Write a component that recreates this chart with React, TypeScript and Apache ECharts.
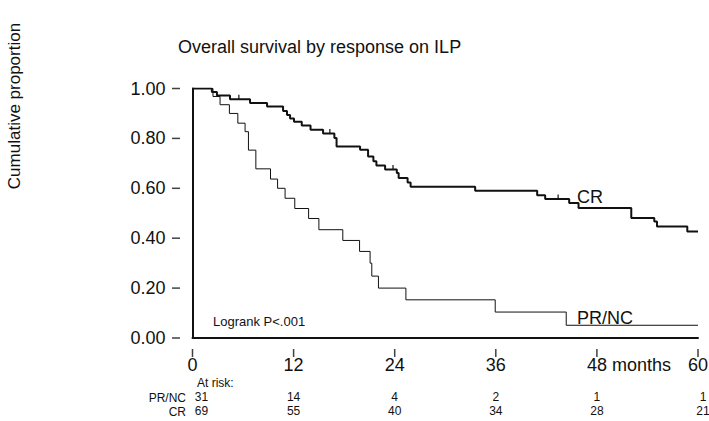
import React, { useEffect, useRef } from "react";
import * as echarts from "echarts";

const FONT = "'Liberation Sans', Arial, Helvetica, sans-serif";
const INK = "#111111";

const monthTicks = [0, 12, 24, 36, 48, 60];
const propTicks = [0, 0.2, 0.4, 0.6, 0.8, 1.0];

// CR (complete response) Kaplan-Meier steps
const crTimes = [0, 2.3, 2.9, 4.45, 6.83, 8.85, 10.75, 11.22, 11.58, 12.05, 12.97, 14.01, 15.5, 16.84, 17.1, 19.89, 20.84, 21.47, 21.83, 22.86, 24.25, 24.47, 25.53, 25.89, 33.55, 40.91, 41.86, 44.71, 45.82, 52.08, 54.81, 55.13, 58.73, 60];
const crSurv = [1, 0.986, 0.972, 0.957, 0.942, 0.928, 0.91, 0.894, 0.88, 0.867, 0.852, 0.835, 0.82, 0.802, 0.768, 0.755, 0.727, 0.708, 0.691, 0.675, 0.661, 0.641, 0.623, 0.606, 0.59, 0.572, 0.557, 0.541, 0.521, 0.481, 0.467, 0.447, 0.427, 0.427];

// PR/NC Kaplan-Meier steps
const prTimes = [0, 2.43, 3.27, 4.38, 5.38, 6.24, 6.64, 7.52, 9.26, 10.1, 10.99, 12.14, 13.78, 15.0, 17.84, 19.83, 21.08, 21.28, 22.07, 25.33, 35.93, 44.36, 60];
const prSurv = [1, 0.968, 0.935, 0.9, 0.861, 0.827, 0.753, 0.678, 0.637, 0.6, 0.56, 0.519, 0.479, 0.434, 0.391, 0.347, 0.3, 0.248, 0.2, 0.153, 0.104, 0.051, 0.051];

// censor ticks on CR curve
const crCensorT = [5.5, 16.3, 23.8, 43.4];
const crCensorS = [0.957, 0.82, 0.675, 0.557];

const atRiskPR = [31, 14, 4, 2, 1, 1];
const atRiskCR = [69, 55, 40, 34, 28, 21];

const riskFmt = (arr: number[]) => (v: number) => {
  const i = Math.round(v / 12);
  const s = String(arr[i]);
  if (i === 0) return `{f|${s}}`;
  if (i === arr.length - 1) return `{l|${s}}`;
  return s;
};

const riskRich = {
  f: { fontSize: 12, fontFamily: FONT, color: INK, padding: [0, 0, 0, 18] },
  l: { fontSize: 12, fontFamily: FONT, color: INK, padding: [0, 0, 0, 10] },
};

export default function App() {
  const ref = useRef<HTMLDivElement>(null);
  useEffect(() => {
    if (!ref.current) return;
    const chart = echarts.init(ref.current, null, { renderer: "svg" });
    const baseX = {
      type: "value", position: "bottom", min: monthTicks[0], max: monthTicks[monthTicks.length - 1],
      interval: 12, splitLine: { show: false },
    };
    const baseY = { type: "value", position: "left", min: 0, max: 1, interval: 0.2, splitLine: { show: false } };
    const option: any = {
      animation: false,
      backgroundColor: "#ffffff",
      title: {
        text: "Overall survival by response on ILP",
        left: 178,
        top: 38,
        padding: 0,
        textStyle: { fontSize: 18, fontWeight: "normal", fontFamily: FONT, color: INK },
      },
      grid: { left: 192.5, right: 11, top: 88.5, bottom: 83, outerBoundsMode: "none", containLabel: false },
      xAxis: [
        {
          ...baseX,
          axisLine: { show: true, lineStyle: { color: INK, width: 2 } },
          axisTick: { show: false },
          axisLabel: { show: false },
        },
        {
          ...baseX,
          offset: 11,
          axisLine: { show: false },
          axisTick: { show: false },
          axisLabel: { show: true, margin: 7, fontSize: 18, fontFamily: FONT, color: INK },
        },
        {
          ...baseX,
          offset: 53,
          axisLine: { show: false },
          axisTick: { show: false },
          axisLabel: { show: true, margin: 0, fontSize: 12, fontFamily: FONT, color: INK, formatter: riskFmt(atRiskPR), rich: riskRich },
        },
        {
          ...baseX,
          offset: 67,
          axisLine: { show: false },
          axisTick: { show: false },
          axisLabel: { show: true, margin: 0, fontSize: 12, fontFamily: FONT, color: INK, formatter: riskFmt(atRiskCR), rich: riskRich },
        },
      ],
      yAxis: [
        {
          ...baseY,
          axisLine: { show: true, lineStyle: { color: INK, width: 2 } },
          axisTick: { show: false },
          axisLabel: { show: false },
        },
        {
          ...baseY,
          offset: 12,
          axisLine: { show: false },
          axisTick: { show: false },
          axisLabel: { show: true, margin: 15, fontSize: 18, fontFamily: FONT, color: INK, formatter: (v: number) => v.toFixed(2) },
        },
      ],
      series: [
        {
          name: "CR",
          type: "line",
          step: "end",
          showSymbol: false,
          data: crTimes.map((t, i) => [t, crSurv[i]]),
          lineStyle: { color: INK, width: 2 },
          z: 3,
        },
        {
          name: "PR/NC",
          type: "line",
          step: "end",
          showSymbol: false,
          data: prTimes.map((t, i) => [t, prSurv[i]]),
          lineStyle: { color: INK, width: 1 },
          z: 2,
        },
        {
          name: "censored",
          type: "scatter",
          symbol: "rect",
          symbolSize: [1.5, 5],
          symbolOffset: [0, -2],
          itemStyle: { color: INK },
          data: crCensorT.map((t, i) => [t, crCensorS[i]]),
          z: 4,
        },
        {
          name: "xTicks",
          type: "scatter",
          clip: false,
          silent: true,
          symbol: "rect",
          symbolSize: [1.5, 8],
          symbolOffset: [0, 15],
          itemStyle: { color: INK },
          data: monthTicks.map((t) => [t, 0]),
          z: 5,
        },
        {
          name: "yTicks",
          type: "scatter",
          clip: false,
          silent: true,
          symbol: "rect",
          symbolSize: [8, 1.5],
          symbolOffset: [-16.5, 0],
          itemStyle: { color: INK },
          data: propTicks.map((v) => [0, v]),
          z: 5,
        },
      ],
      graphic: [
        {
          type: "text",
          x: 14, y: 106, rotation: Math.PI / 2,
          style: { text: "Cumulative proportion", fontSize: 17, fontFamily: FONT, fill: INK, align: "center", verticalAlign: "middle" },
        },
        {
          type: "text", x: 577, y: 197,
          style: { text: "CR", fontSize: 18, fontFamily: FONT, fill: INK, align: "left", verticalAlign: "middle" },
        },
        {
          type: "text", x: 577, y: 318,
          style: { text: "PR/NC", fontSize: 18, fontFamily: FONT, fill: INK, align: "left", verticalAlign: "middle" },
        },
        {
          type: "text", x: 213, y: 321,
          style: { text: "Logrank P<.001", fontSize: 13, fontFamily: FONT, fill: INK, align: "left", verticalAlign: "middle" },
        },
        {
          type: "text", x: 612, y: 365,
          style: { text: "months", fontSize: 18, fontFamily: FONT, fill: INK, align: "left", verticalAlign: "middle" },
        },
        {
          type: "text", x: 197, y: 383,
          style: { text: "At risk:", fontSize: 12, fontFamily: FONT, fill: INK, align: "left", verticalAlign: "middle" },
        },
        {
          type: "text", x: 186, y: 398,
          style: { text: "PR/NC", fontSize: 12, fontFamily: FONT, fill: INK, align: "right", verticalAlign: "middle" },
        },
        {
          type: "text", x: 186, y: 412,
          style: { text: "CR", fontSize: 12, fontFamily: FONT, fill: INK, align: "right", verticalAlign: "middle" },
        },
      ],
    };
    chart.setOption(option);
    return () => chart.dispose();
  }, []);
  return (
    <div
      ref={ref}
      style={{ position: "fixed", left: 0, top: 0, width: 709, height: 421, background: "#fff" }}
    />
  );
}
